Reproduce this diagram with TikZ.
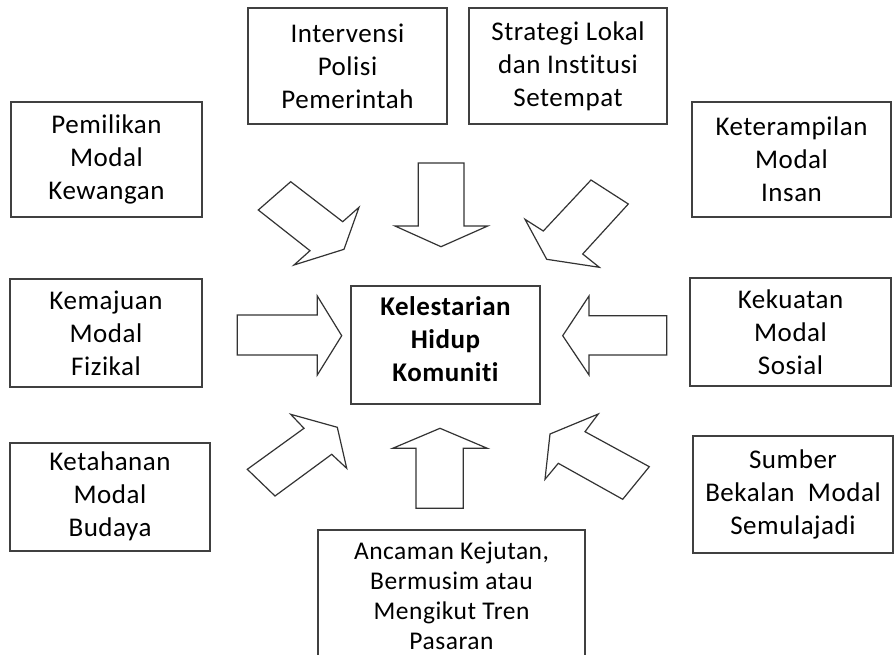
\documentclass[tikz,border=0pt]{standalone}
\usepackage{fontspec}
\setmainfont{Carlito}[Ligatures=NoCommon, LetterSpace=2]
\begin{document}
\begin{tikzpicture}[x=1pt,y=-1pt,
  box/.style={draw=black!75, line width=1.4pt, fill=white, align=center, inner sep=2pt,
    font=\fontsize{27}{33}\selectfont},
  blockarrow/.style={draw=black!80, line width=1.2pt, line join=miter, fill=white}]
\path[use as bounding box, clip] (0,0) rectangle (894,655);
\fill[white] (0,0) rectangle (894,655);

% boxes
\node[box, minimum width=199pt, minimum height=116pt] (ipp) at (347.5,66) {Intervensi\\Polisi\\Pemerintah};
\node[box, minimum width=198pt, minimum height=116pt] (sli) at (568,66) {Strategi Lokal\\dan Institusi\\Setempat};
\node[box, minimum width=191pt, minimum height=115pt] (pmk) at (106.5,159.5) {Pemilikan\\Modal\\Kewangan};
\node[box, minimum width=199pt, minimum height=115pt] (kmi) at (791.5,159.5) {Keterampilan\\Modal\\Insan};
\node[box, minimum width=192pt, minimum height=108pt] (kmf) at (106,333) {Kemajuan\\Modal\\Fizikal};
\node[box, minimum width=201pt, minimum height=108pt] (kms) at (790.5,332) {Kekuatan\\Modal\\Sosial};
\node[box, minimum width=200pt, minimum height=108pt, text depth=5pt] (kmb) at (110,497) {Ketahanan\\Modal\\Budaya};
\node[box, minimum width=200pt, minimum height=117pt] (sbm) at (793,494.5) {Sumber\\Bekalan~~Modal\\Semulajadi};
\node[box, minimum width=267pt, minimum height=132pt, font=\fontsize{25.5}{30}\selectfont] (akb) at (451.5,596) {Ancaman Kejutan,\\Bermusim atau\\Mengikut Tren\\Pasaran};
\node[box, minimum width=189pt, minimum height=118pt, text depth=12pt, font=\bfseries\fontsize{27}{33}\selectfont] (khk) at (445.5,345) {Kelestarian\\Hidup\\Komuniti};

% block arrows
\draw[blockarrow] (290.7,181.7) -- (258.3,210) -- (310,250.7) -- (294,265) -- (344,249.3) -- (359,207.3) -- (342.7,221.7) -- cycle;
\draw[blockarrow] (418.3,163) -- (464,163) -- (464,226) -- (487.7,226) -- (441,246.7) -- (395,226) -- (418.3,226) -- cycle;
\draw[blockarrow] (591,180) -- (628.3,204) -- (582.7,254) -- (599.3,267.3) -- (546.7,259.3) -- (525,219.3) -- (543.3,231) -- cycle;
\draw[blockarrow] (237.3,315) -- (317.3,315) -- (317.3,296) -- (341.7,335.7) -- (317.3,375) -- (317.3,355) -- (237.3,355) -- cycle;
\draw[blockarrow] (666.7,315.7) -- (589,315.7) -- (589,296) -- (562.7,335.7) -- (589,375) -- (589,355) -- (666.7,355) -- cycle;
\draw[blockarrow] (247.3,469.3) -- (304,428.3) -- (290.7,414.3) -- (337.3,427.3) -- (346.7,468.3) -- (331.7,454.3) -- (275,496) -- cycle;
\draw[blockarrow] (416,508.3) -- (416,448.3) -- (392.7,448.3) -- (440,428.3) -- (487.3,448.3) -- (463.3,448.3) -- (463.3,508.3) -- cycle;
\draw[blockarrow] (598.3,414) -- (550,434) -- (545,479.3) -- (558.3,463.3) -- (622.7,499.3) -- (649.3,466.7) -- (585,431.7) -- cycle;
\end{tikzpicture}
\end{document}
